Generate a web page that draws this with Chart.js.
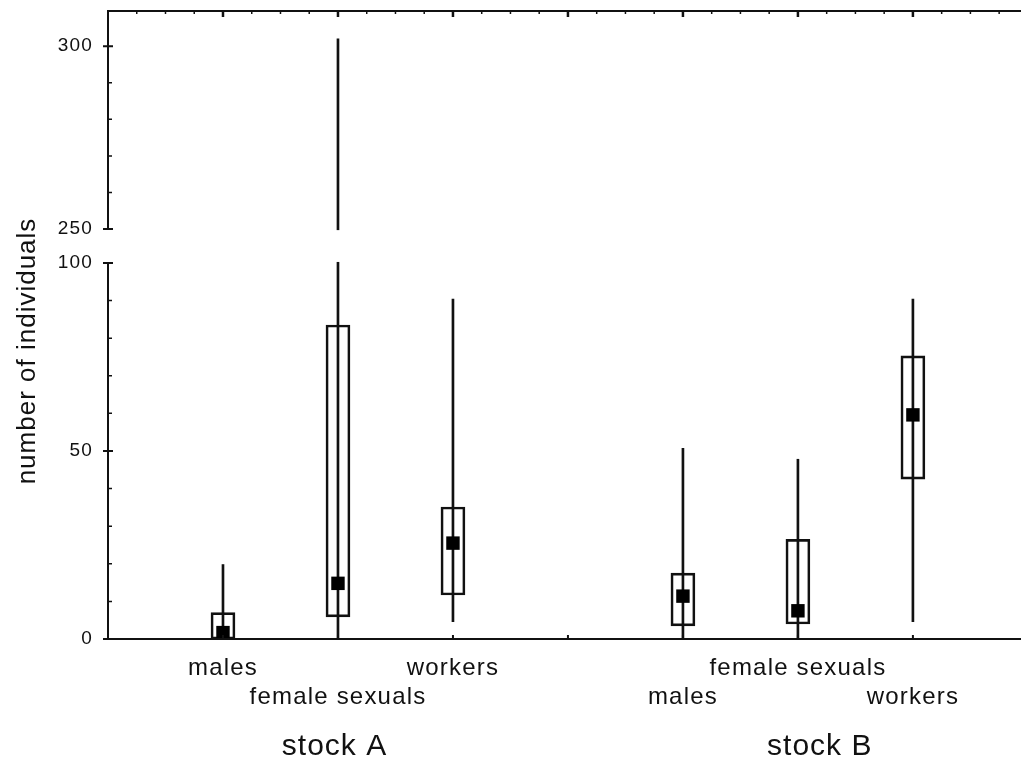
<!DOCTYPE html>
<html>
<head>
<meta charset="utf-8">
<script src="https://cdn.jsdelivr.net/npm/chart.js@4.4.0/dist/chart.umd.min.js"></script>
<style>
    html, body { margin: 0; padding: 0; background: #fff; }
    #wrap { width: 1021px; height: 758px; position: relative; }
</style>
</head>
<body>
<div id="wrap"><canvas id="chart"></canvas></div>
<script>
// --- Data ---
const positions = [1, 2, 3, 5, 6, 7];
const categories = ['males', 'female sexuals', 'workers', 'males', 'female sexuals', 'workers'];
const labelRow = [0, 1, 0, 1, 0, 1];
const groups = ['stock A', 'stock B'];
const whiskerLow = [0, 0, 4.6, 0, 0, 4.6];
const whiskerHigh = [19.8, 302, 90.4, 50.7, 47.8, 90.4];
const boxLow = [0, 5.9, 11.7, 3.5, 4, 42.5];
const boxHigh = [7, 83.5, 35.1, 17.5, 26.5, 75.3];
const median = [1.7, 14.8, 25.5, 11.4, 7.5, 59.6];
const yTickValues = [0, 50, 100, 250, 300];

// --- Broken y axis (0-100, then 250-310) ---
const BREAK_LOW = 100;
const BREAK_HIGH = 250;
const BREAK_GAP = 9;
const UPPER_SCALE = 0.973;
const toAxis = v => v <= BREAK_LOW ? v : BREAK_LOW + BREAK_GAP + (v - BREAK_HIGH) * UPPER_SCALE;

const FONT = "'Liberation Sans', Arial, sans-serif";
const INK = '#111';
const GROUP_X = [1.97, 6.19];

// no edge padding for labels: the plot box is fixed
const noPadding = scale => {
    scale.paddingTop = 0;
    scale.paddingBottom = 0;
    scale.paddingLeft = 0;
    scale.paddingRight = 0;
};

const brokenAxisPlugin = {
    id: 'brokenAxis',
    beforeLayout(chart) { chart.ctx.letterSpacing = '1.2px'; },
    beforeDraw(chart) { chart.ctx.letterSpacing = '1.2px'; },
    afterDatasetsDraw(chart) {
        const { ctx, chartArea: a, scales: { x, y } } = chart;
        const yHi = y.getPixelForValue(toAxis(BREAK_HIGH));
        const yLo = y.getPixelForValue(BREAK_LOW);
        ctx.save();
        // clear the break band
        ctx.fillStyle = '#fff';
        ctx.fillRect(a.left - 10, yHi + 1, a.right - a.left + 10, yLo - yHi - 2);

        ctx.strokeStyle = INK;
        ctx.lineWidth = 2;
        ctx.beginPath();
        ctx.moveTo(a.left, a.bottom); ctx.lineTo(a.right, a.bottom);
        ctx.moveTo(a.left - 1, a.top); ctx.lineTo(a.right, a.top);
        ctx.moveTo(a.left, a.top); ctx.lineTo(a.left, yHi);
        ctx.moveTo(a.left, yLo); ctx.lineTo(a.left, a.bottom);
        yTickValues.forEach(v => {
            const py = y.getPixelForValue(toAxis(v));
            ctx.moveTo(a.left - 5, py); ctx.lineTo(a.left + 5, py);
        });
        // bottom ticks
        for (let i = 1; i <= 7; i++) {
            const px = x.getPixelForValue(i);
            ctx.moveTo(px, a.bottom); ctx.lineTo(px, a.bottom - 4);
        }
        ctx.stroke();

        // top ticks
        for (let k = 1; k / 4 <= x.max; k++) {
            const px = x.getPixelForValue(k / 4);
            const major = k % 4 === 0;
            ctx.lineWidth = major ? 2.5 : 1.5;
            ctx.beginPath();
            ctx.moveTo(px, a.top); ctx.lineTo(px, a.top + (major ? 6 : 3));
            ctx.stroke();
        }

        // minor y ticks
        ctx.lineWidth = 1.5;
        ctx.beginPath();
        for (let v = 10; v < BREAK_LOW; v += 10) {
            if (v === 50) continue;
            const py = y.getPixelForValue(v);
            ctx.moveTo(a.left, py); ctx.lineTo(a.left + 4, py);
        }
        for (let v = BREAK_HIGH + 10; v < 300; v += 10) {
            const py = y.getPixelForValue(toAxis(v));
            ctx.moveTo(a.left, py); ctx.lineTo(a.left + 4, py);
        }
        ctx.stroke();
        ctx.restore();
    },
    afterDraw(chart) {
        const { ctx, scales: { x } } = chart;
        ctx.save();
        ctx.fillStyle = INK;
        // y title
        ctx.letterSpacing = '1px';
        ctx.font = `26px ${FONT}`;
        ctx.textAlign = 'center';
        ctx.textBaseline = 'alphabetic';
        ctx.translate(35, 351);
        ctx.rotate(-Math.PI / 2);
        ctx.fillText('number of individuals', 0, 0);
        ctx.setTransform(1, 0, 0, 1, 0, 0);
        // group labels
        ctx.font = `30px ${FONT}`;
        groups.forEach((g, i) => {
            ctx.fillText(g, x.getPixelForValue(GROUP_X[i]), 755);
        });
        ctx.restore();
    }
};

new Chart(document.getElementById('chart'), {
    type: 'bar',
    data: {
        datasets: [
            {
                type: 'scatter',
                label: 'median',
                data: positions.map((p, i) => ({ x: p, y: toAxis(median[i]) })),
                pointStyle: 'rect',
                pointRadius: 9.5,
                pointHoverRadius: 9.5,
                backgroundColor: '#000',
                borderWidth: 0,
                order: 0
            },
            {
                label: 'box',
                data: positions.map((p, i) => ({ x: p, y: [toAxis(boxLow[i]), toAxis(boxHigh[i])] })),
                backgroundColor: 'rgba(0,0,0,0)',
                borderColor: INK,
                borderWidth: 2,
                borderSkipped: false,
                barThickness: 24,
                grouped: false,
                order: 1
            },
            {
                label: 'whisker',
                data: positions.map((p, i) => ({ x: p, y: [toAxis(whiskerLow[i]), toAxis(whiskerHigh[i])] })),
                backgroundColor: INK,
                borderWidth: 0,
                barThickness: 2,
                grouped: false,
                order: 2
            }
        ]
    },
    options: {
        responsive: true,
        maintainAspectRatio: false,
        animation: false,
        layout: { autoPadding: false, padding: { top: 11, right: 0, bottom: 0, left: 0 } },
        plugins: {
            legend: { display: false },
            tooltip: { enabled: false }
        },
        scales: {
            x: {
                type: 'linear',
                min: 0,
                max: 7.94,
                offset: false,
                grid: { display: false, drawTicks: false },
                border: { display: false },
                afterBuildTicks: scale => { scale.ticks = positions.map(p => ({ value: p })); },
                afterFit: scale => { scale.height = 119; noPadding(scale); },
                ticks: {
                    autoSkip: false,
                    maxRotation: 0,
                    padding: 15,
                    color: INK,
                    font: { family: FONT, size: 24, lineHeight: 1.2 },
                    callback: (v, i) => labelRow[i] === 0 ? [categories[i], ''] : ['', categories[i]]
                }
            },
            y: {
                type: 'linear',
                min: 0,
                max: 167,
                grid: { display: false, drawTicks: false },
                border: { display: false },
                afterBuildTicks: scale => { scale.ticks = yTickValues.map(v => ({ value: toAxis(v) })); },
                afterFit: scale => { scale.width = 108; noPadding(scale); },
                ticks: {
                    padding: 15,
                    color: INK,
                    font: { family: FONT, size: 19 },
                    callback: (v, i) => String(yTickValues[i])
                }
            }
        }
    },
    plugins: [brokenAxisPlugin]
});
</script>
</body>
</html>
